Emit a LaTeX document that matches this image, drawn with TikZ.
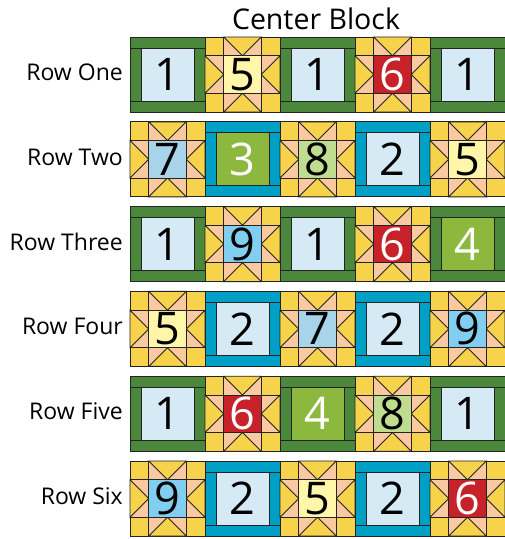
\documentclass[tikz,border=0pt]{standalone}
\usepackage{fontspec}
\setmainfont{Open Sans}
\usepackage{tikz}
\usepackage{xcolor}

\definecolor{seamgray}{RGB}{35,35,35}
\definecolor{cabingreen}{RGB}{76,136,60}
\definecolor{cabinblue}{RGB}{0,160,198}
\definecolor{gold}{RGB}{247,211,76}
\definecolor{peach}{RGB}{250,201,160}
% centre squares, one colour per number
\definecolor{sq1}{RGB}{214,234,246}
\definecolor{sq2}{RGB}{214,234,246}
\definecolor{sq3}{RGB}{141,184,62}
\definecolor{sq4}{RGB}{141,184,62}
\definecolor{sq5}{RGB}{255,246,170}
\definecolor{sq6}{RGB}{199,34,42}
\definecolor{sq7}{RGB}{168,212,234}
\definecolor{sq8}{RGB}{192,220,142}
\definecolor{sq9}{RGB}{130,206,240}
\colorlet{txt1}{black}
\colorlet{txt2}{black}
\colorlet{txt3}{white}
\colorlet{txt4}{white}
\colorlet{txt5}{black}
\colorlet{txt6}{white}
\colorlet{txt7}{black}
\colorlet{txt8}{black}
\colorlet{txt9}{black}

\begin{document}
\begin{tikzpicture}[x=1pt, y=-1pt,
    seam/.style={draw=seamgray, line width=0.9pt},
    num/.style={font=\fontsize{45}{45}\selectfont, inner sep=0pt},
    rowlabel/.style={font=\fontsize{23}{23}\selectfont, anchor=base east, inner sep=0pt},
    title/.style={font=\fontsize{28.5}{28.5}\selectfont, anchor=base, inner sep=0pt},
    pics/cabin/.style 2 args={code={
        \draw[seam, fill=#1] (0,0) rectangle (75,75);
        \draw[seam] (0,11) -- (75,11) (0,64) -- (75,64) (11,11) -- (11,64) (64,11) -- (64,64);
        \draw[seam, fill=sq#2] (11,11) rectangle (64,64);
        \node[num, text=txt#2] (-n) at (37.5,37.5) {#2};
    }},
    pics/star/.style={code={
        \draw[seam, fill=peach] (0,0) rectangle (75,75);
        \foreach \px/\py in {0/0, 56.25/0, 0/56.25, 56.25/56.25}
            \draw[seam, fill=gold] (\px,\py) rectangle ++(18.75,18.75);
        \draw[seam, fill=gold] (18.75,0) -- (56.25,0) -- (37.5,18.75) -- cycle;
        \draw[seam, fill=gold] (18.75,75) -- (56.25,75) -- (37.5,56.25) -- cycle;
        \draw[seam, fill=gold] (0,18.75) -- (0,56.25) -- (18.75,37.5) -- cycle;
        \draw[seam, fill=gold] (75,18.75) -- (75,56.25) -- (56.25,37.5) -- cycle;
        \draw[seam, fill=sq#1] (18.75,18.75) rectangle (56.25,56.25);
        \node[num, text=txt#1] (-n) at (37.5,37.5) {#1};
    }}
]
    \useasboundingbox (0,0) rectangle (505,539);

    % Title
    \node[title] (title) at (316,29.5) {Center Block};

    % Rows of blocks
    \foreach \rowname/\nums [count=\r from 0] in {One/{1,5,1,6,1}, Two/{7,3,8,2,5}, Three/{1,9,1,6,4}, Four/{5,2,7,2,9}, Five/{1,6,4,8,1}, Six/{9,2,5,2,6}}{
        \node[rowlabel] (row\r) at (123, 80.5+\r*84.8) {Row \rowname};
        \foreach \n [count=\c from 0] in \nums {
            \pgfmathtruncatemacro{\odd}{mod(\r+\c,2)}
            \ifnum\odd=1
                \pic (blk\r\c) at (130+\c*75, 37+\r*84.8) {star=\n};
            \else
                \ifodd\r \def\fc{cabinblue}\else \def\fc{cabingreen}\fi
                \pic (blk\r\c) at (130+\c*75, 37+\r*84.8) {cabin={\fc}{\n}};
            \fi
        }
    }
\end{tikzpicture}
\end{document}
